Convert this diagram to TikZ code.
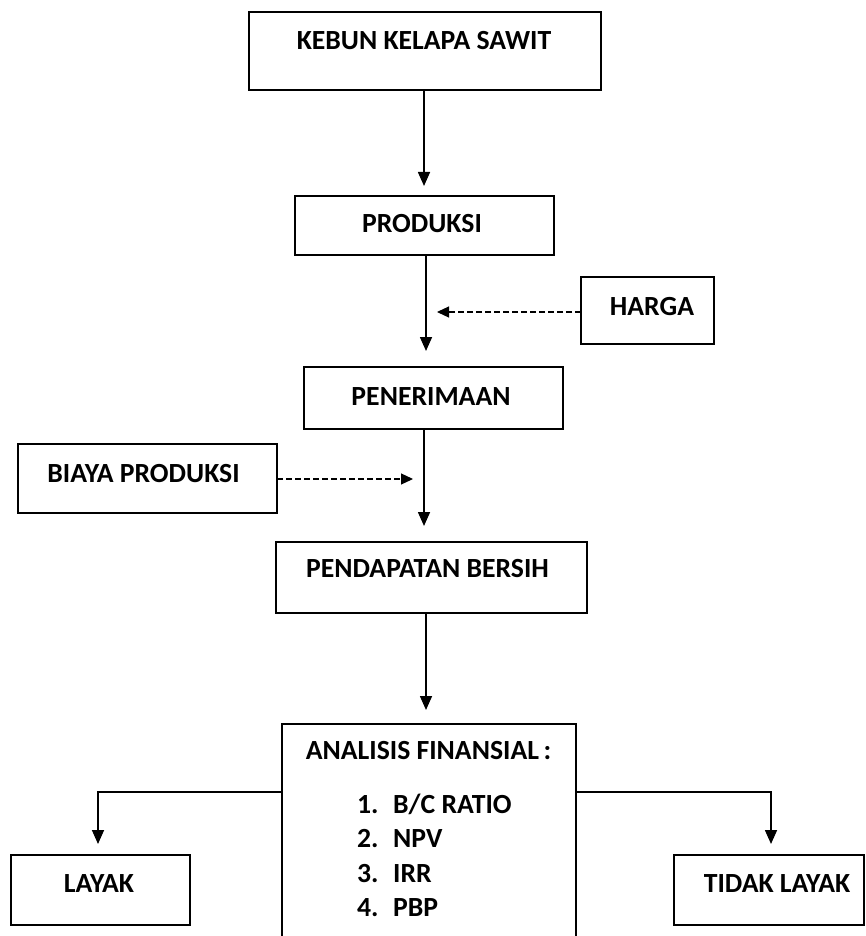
\documentclass[tikz,border=0pt]{standalone}
\usepackage{fontspec}
\setmainfont{Carlito}
\usetikzlibrary{arrows.meta}
\tikzset{
  boxnode/.style={draw=black, line width=1.6pt, inner sep=0pt, outer sep=0pt},
  txt/.style={anchor=base, inner sep=0pt, font=\fontsize{27.7}{32}\selectfont\bfseries},
  txtw/.style={anchor=base west, inner sep=0pt, font=\fontsize{27.7}{32}\selectfont\bfseries},
  flow/.style={line width=1.6pt, -{Triangle[length=14pt,width=12pt]}},
  dflow/.style={line width=1.2pt, dash pattern=on 6pt off 3pt, -{Triangle[length=12pt,width=11pt]}},
}
\begin{document}
\begin{tikzpicture}[x=1pt,y=-1pt]
\useasboundingbox (0,0) rectangle (865,936);
\clip (0,0) rectangle (865,936);
% boxes
\node[boxnode, minimum width=352, minimum height=78] (kebun) at (425,51) {};
\node[boxnode, minimum width=259, minimum height=59] (produksi) at (424.5,225.5) {};
\node[boxnode, minimum width=133, minimum height=67] (harga) at (647.5,310.5) {};
\node[boxnode, minimum width=259, minimum height=62] (penerimaan) at (433.5,398) {};
\node[boxnode, minimum width=259, minimum height=69] (biaya) at (147.5,478.5) {};
\node[boxnode, minimum width=311, minimum height=71] (pendapatan) at (431.5,577.5) {};
\node[boxnode, minimum width=294, minimum height=240] (analisis) at (429,844) {};
\node[boxnode, minimum width=179, minimum height=70] (layak) at (100.5,890) {};
\node[boxnode, minimum width=190, minimum height=70] (tidak) at (769,890) {};
% texts
\node[txt] (tkebun) at (424,50) {KEBUN KELAPA SAWIT};
\node[txt] (tproduksi) at (422,232) {PRODUKSI};
\node[txt] (tharga) at (652,315) {HARGA};
\node[txt] (tpenerimaan) at (431,405) {PENERIMAAN};
\node[txt] (tbiaya) at (143.5,482) {BIAYA PRODUKSI};
\node[txt] (tpendapatan) at (427.5,577) {PENDAPATAN BERSIH};
\node[txt] (tanalisis) at (428.5,759) {ANALISIS FINANSIAL\,:};
\node[txtw] (n1) at (357,813) {1.};
\node[txtw] (i1) at (393,813) {B/C RATIO};
\node[txtw] (n2) at (357,847) {2.};
\node[txtw] (i2) at (393,847) {NPV};
\node[txtw] (n3) at (357,882) {3.};
\node[txtw] (i3) at (393,882) {IRR};
\node[txtw] (n4) at (357,916) {4.};
\node[txtw] (i4) at (393,916) {PBP};
\node[txt] (tlayak) at (99,892) {LAYAK};
\node[txt] (ttidak) at (777,892) {TIDAK LAYAK};
% arrow end points
\coordinate (c1) at (424,186);
\coordinate (c2) at (426,351);
\coordinate (c3) at (424,526);
\coordinate (c4) at (426,710);
\coordinate (h1) at (437,312);
\coordinate (b1) at (413,479);
\coordinate (l0) at (98,792);
\coordinate (l1) at (98,844);
\coordinate (r0) at (771,792);
\coordinate (r1) at (771,844);
% connectors
\draw[flow] (kebun.south -| c1) -- (c1);
\draw[flow] (produksi.south -| c2) -- (c2);
\draw[flow] (penerimaan.south -| c3) -- (c3);
\draw[flow] (pendapatan.south -| c4) -- (c4);
\draw[dflow] (harga.west |- h1) -- (h1);
\draw[dflow] (biaya.east |- b1) -- (b1);
\draw[flow] (analisis.west |- l0) -- (l0) -- (l1);
\draw[flow] (analisis.east |- r0) -- (r0) -- (r1);
\end{tikzpicture}
\end{document}
